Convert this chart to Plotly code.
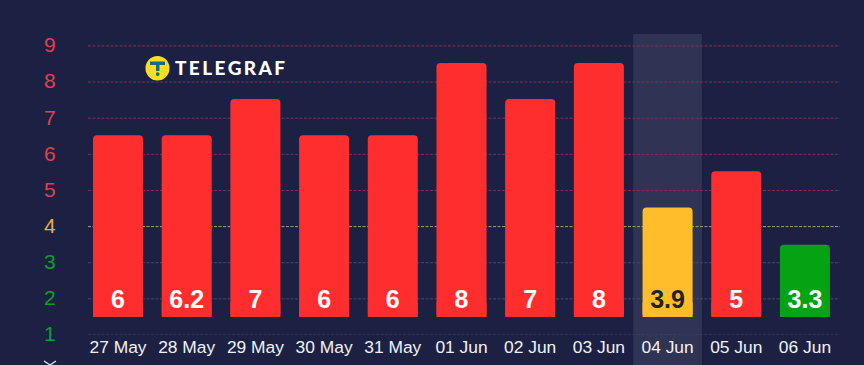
import plotly.graph_objects as go

dates = ["27 May", "28 May", "29 May", "30 May", "31 May", "01 Jun", "02 Jun", "03 Jun", "04 Jun", "05 Jun", "06 Jun"]
labels = ["6", "6.2", "7", "6", "6", "8", "7", "8", "3.9", "5", "3.3"]
bar_tops = [6.53, 6.53, 7.53, 6.53, 6.53, 8.53, 7.53, 8.53, 4.53, 5.53, 3.5]
bar_colors = ["#ff2e2e"] * 8 + ["#ffbc2b", "#ff2e2e", "#03a313"]
label_colors = ["#ffffff"] * 8 + ["#222222", "#ffffff", "#ffffff"]
y_ticks = [1, 2, 3, 4, 5, 6, 7, 8, 9]
tick_colors = ["#0f9d2c", "#0f9d2c", "#0f9d2c", "#f4ab45", "#e0404c", "#e0404c", "#e0404c", "#e0404c", "#e0404c"]
grid_colors = ["#3d4770", "#454a72", "#454a72", "#a89a7a", "#77344f", "#77344f", "#77344f", "#77344f", "#77344f"]
BASE = 1.5
FOOT = 0.4
LABEL_Y = 1.92
HIGHLIGHT = "04 Jun"

W, H = 864, 365
ML, MR, MT, MB = 88, 24, 34, 30
BG = "#1c2143"
FONT = "Liberation Sans, Arial, sans-serif"


def px(x):
    return (x - ML) / (W - ML - MR)


def py(y):
    return (H - MB - y) / (H - MT - MB)


fig = go.Figure()
fig.add_bar(
    x=dates,
    y=[t - BASE for t in bar_tops],
    base=BASE,
    width=0.728,
    marker=dict(color=bar_colors, line=dict(width=0), cornerradius=4),
    hoverinfo="skip",
)
# square foot: the reference bars are rounded at the top only
fig.add_bar(
    x=dates,
    y=[FOOT] * len(dates),
    base=BASE,
    width=0.728,
    marker=dict(color=bar_colors, line=dict(width=0)),
    hoverinfo="skip",
)
fig.add_scatter(
    x=dates,
    y=[LABEL_Y] * len(dates),
    mode="text",
    text=labels,
    textposition="middle center",
    textfont=dict(family=FONT, size=25, color=label_colors, weight="bold"),
    hoverinfo="skip",
)

shapes = []
hi = dates.index(HIGHLIGHT)
shapes.append(dict(type="rect", xref="x", yref="paper", x0=hi - 0.5, x1=hi + 0.5,
                   y0=py(H), y1=1, fillcolor="#2f3354", line_width=0, layer="below"))
for v, c in zip(y_ticks, grid_colors):
    shapes.append(dict(type="line", xref="paper", yref="y", x0=0, x1=1, y0=v, y1=v,
                       line=dict(color=c, width=1, dash="3px,1.5px"), layer="below"))
# logo
shapes.append(dict(type="circle", xref="paper", yref="paper", x0=px(145.5), x1=px(169.5),
                   y0=py(80.5), y1=py(56), fillcolor="#ffdf1b", line_width=0))
shapes.append(dict(type="rect", xref="paper", yref="paper", x0=px(150), x1=px(165),
                   y0=py(65), y1=py(61.5), fillcolor="#176a80", line_width=0))
shapes.append(dict(type="rect", xref="paper", yref="paper", x0=px(156), x1=px(159.5),
                   y0=py(71), y1=py(65), fillcolor="#176a80", line_width=0))
shapes.append(dict(type="circle", xref="paper", yref="paper", x0=px(155.8), x1=px(159.6),
                   y0=py(76), y1=py(72.2), fillcolor="#176a80", line_width=0))
# chevron under the y axis
shapes.append(dict(type="path", xref="paper", yref="paper",
                   path=f"M {px(44)} {py(361)} L {px(50)} {py(365)} L {px(56)} {py(361)}",
                   line=dict(color="#e8eaf6", width=1.2)))

annotations = [dict(
    xref="paper", yref="paper", x=px(172.5), y=py(68), xanchor="left", yanchor="middle",
    text="\u2009".join("TELEGRAF"),
    showarrow=False, font=dict(family="Lato, sans-serif", size=19, color="#ffffff", weight=900),
)]

ticktext = [f'<span style="color:{c}">{v}</span>' for v, c in zip(y_ticks, tick_colors)]
fig.update_layout(
    width=W, height=H, margin=dict(l=ML, r=MR, t=MT, b=MB, pad=0),
    paper_bgcolor=BG, plot_bgcolor="rgba(0,0,0,0)", showlegend=False,
    shapes=shapes, annotations=annotations, barmode="overlay",
    font=dict(family=FONT),
    xaxis=dict(type="category", range=[-0.437, 10.51], showgrid=False, zeroline=False,
               showline=False, ticks="", tickangle=0, automargin=False,
               tickfont=dict(family=FONT, size=17.4, color="#f1f2f8")),
    yaxis=dict(range=[1, 9.33], tickvals=y_ticks, ticktext=ticktext, showgrid=False,
               zeroline=False, showline=False, ticks="outside", ticklen=27, automargin=False,
               ticklabelshift=-1,
               tickcolor="rgba(0,0,0,0)", tickfont=dict(family=FONT, size=21)),
)
fig.write_html("out.html", post_script="document.body.style.margin='0';document.body.style.overflow='hidden';document.body.style.background='#1c2143';",
               config={"displayModeBar": False})
